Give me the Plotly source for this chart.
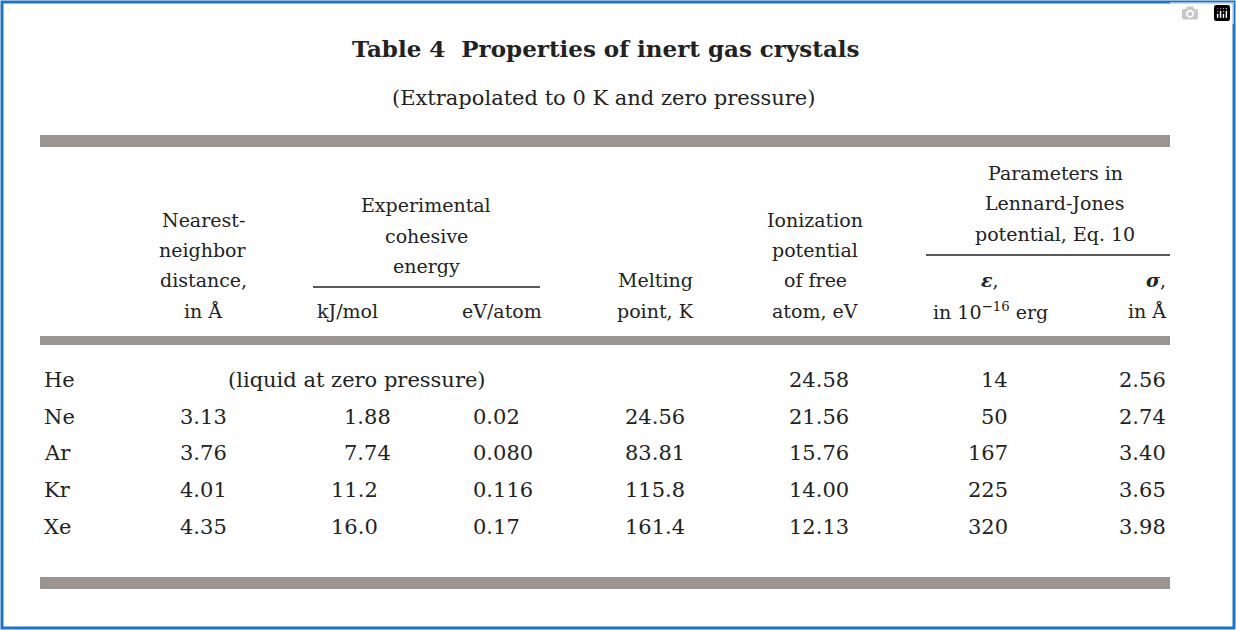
import plotly.graph_objects as go

title = "Table 4  Properties of inert gas crystals"
subtitle = "(Extrapolated to 0 K and zero pressure)"
elements = ["He", "Ne", "Ar", "Kr", "Xe"]
nn_dist = ["", "3.13", "3.76", "4.01", "4.35"]
coh_kj = ["", "1.88", "7.74", "11.2", "16.0"]
coh_ev = ["", "0.02", "0.080", "0.116", "0.17"]
melting = ["", "24.56", "83.81", "115.8", "161.4"]
ionization = ["24.58", "21.56", "15.76", "14.00", "12.13"]
lj_eps = ["14", "50", "167", "225", "320"]
lj_sigma = ["2.56", "2.74", "3.40", "3.65", "3.98"]
he_note = "(liquid at zero pressure)"

FONT = "DejaVu Serif"
INK = "#222"
BAR = "#9b9591"
W, H = 1236, 630

fig = go.Figure()
fig.update_layout(
    width=W, height=H, margin=dict(l=0, r=0, t=0, b=0),
    paper_bgcolor="white", plot_bgcolor="white", showlegend=False,
    xaxis=dict(range=[0, W], visible=False, fixedrange=True),
    yaxis=dict(range=[H, 0], visible=False, fixedrange=True),
)

def txt(x, y, s, anchor="center", size=21, bold=False):
    if bold:
        s = "<b>" + s + "</b>"
    fig.add_annotation(x=x, y=y, text=s, showarrow=False, xanchor=anchor,
                       yanchor="middle", font=dict(family=FONT, size=size, color=INK))

def rect(x0, y0, x1, y1, color=BAR):
    fig.add_shape(type="rect", x0=x0, y0=y0, x1=x1, y1=y1, fillcolor=color,
                  line=dict(width=0), layer="below")

# border
fig.add_shape(type="rect", x0=2, y0=2, x1=W - 2, y1=H - 2,
              line=dict(color="#1c74c8", width=3), fillcolor="rgba(0,0,0,0)")

txt(606, 48, title, size=23, bold=True)
txt(604, 98, subtitle, size=21)
rect(40, 135, 1170, 147)
rect(40, 336, 1170, 345)
rect(40, 577, 1170, 589)
fig.add_shape(type="line", x0=313, x1=540, y0=287, y1=287, line=dict(color=INK, width=1.5))
fig.add_shape(type="line", x0=926, x1=1170, y0=255, y1=255, line=dict(color=INK, width=1.5))

hs = 19
for y, s in zip([220, 250, 280, 311], ["Nearest-", "neighbor", "distance,", "in Å"]):
    txt(203, y, s, size=hs)
for y, s in zip([205, 236, 266], ["Experimental", "cohesive", "energy"]):
    txt(426, y, s, size=hs)
txt(347, 311, "kJ/mol", size=hs)
txt(502, 311, "eV/atom", size=hs)
txt(655, 280, "Melting", size=hs)
txt(655, 311, "point, K", size=hs)
for y, s in zip([220, 250, 280, 311], ["Ionization", "potential", "of free", "atom, eV"]):
    txt(815, y, s, size=hs)
for y, s in zip([173, 203, 234], ["Parameters in", "Lennard-Jones", "potential, Eq. 10"]):
    txt(1055, y, s, size=hs)
txt(990, 280, "<b><i>ε</i></b>,", size=hs)
txt(990, 311, "in 10<sup>−16</sup> erg", size=hs)
txt(1168, 280, "<b><i>σ</i></b>,", anchor="right", size=hs)
txt(1168, 311, "in Å", anchor="right", size=hs)

rows_y = [380, 417, 453, 490, 527]
for i, y in enumerate(rows_y):
    txt(42, y, elements[i], anchor="left")
    if nn_dist[i]:
        txt(229, y, nn_dist[i], anchor="right")
    if coh_kj[i]:
        dec = len(coh_kj[i].split(".")[1])
        txt(393 - (2 - dec) * 13, y, coh_kj[i], anchor="right")
    if coh_ev[i]:
        txt(471, y, coh_ev[i], anchor="left")
    if melting[i]:
        txt(687, y, melting[i], anchor="right")
    txt(851, y, ionization[i], anchor="right")
    txt(1010, y, lj_eps[i], anchor="right")
    txt(1168, y, lj_sigma[i], anchor="right")
txt(357, rows_y[0], he_note)

fig.write_html("out.html",
               post_script="document.body.style.margin='0';document.body.style.overflow='hidden';")
